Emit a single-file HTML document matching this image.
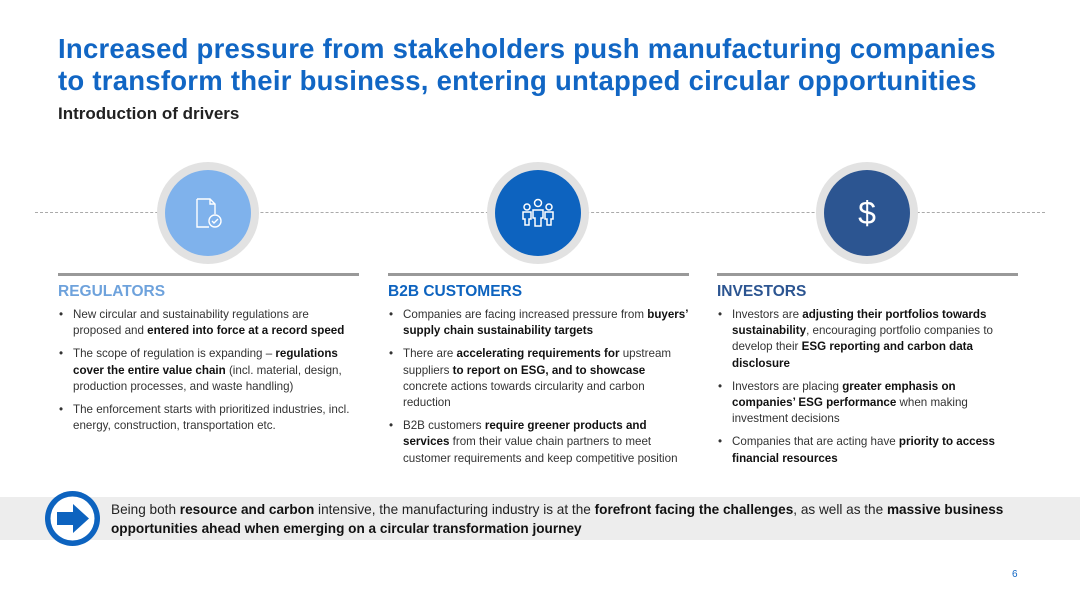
<!DOCTYPE html>
<html><head><meta charset="utf-8"><style>
*{margin:0;padding:0;box-sizing:border-box}
body{width:1080px;height:607px;background:#fff;font-family:"Liberation Sans",sans-serif;position:relative;overflow:hidden;color:#222}
.abs{position:absolute}
h1{position:absolute;left:58px;top:33px;font-size:27.5px;line-height:32px;color:#1166c4;font-weight:bold;letter-spacing:0.25px;white-space:nowrap}
.sub{left:58px;top:104px;font-size:17px;font-weight:bold;color:#222}
.dash{left:35px;top:212px;width:1010px;border-top:1.5px dashed #aaa}
.ring{width:102px;height:102px;border-radius:50%;background:#e2e2e2;top:162px}
.inner{position:absolute;left:8px;top:8px;width:86px;height:86px;border-radius:50%;display:flex;align-items:center;justify-content:center;color:#fff}
.col{top:273px;width:301px}
.rule{border-top:3px solid #999;}
.col h2{font-size:15.5px;margin-top:7px;margin-bottom:6px}
.col ul{list-style:none;font-size:11.6px;line-height:16.2px;color:#333}
.col li{position:relative;padding-left:15px;margin-bottom:7px}
.col li:before{content:"•";position:absolute;left:1px}
b{color:#111}
.band{left:0;top:497px;width:1080px;height:43px;background:#ededed}
.arrow{left:45px;top:491px;width:55px;height:55px;border-radius:50%;background:#0d63bf}
.btext{left:111px;top:500px;font-size:13.6px;line-height:19px;color:#222;width:950px}
.pg{left:1012px;top:569px;font-size:10px;color:#1166c4}
</style></head><body>
<h1>Increased pressure from stakeholders push manufacturing companies<br>to transform their business, entering untapped circular opportunities</h1>
<div class="abs sub">Introduction of drivers</div>
<div class="abs dash"></div>
<div class="abs ring" style="left:157px"><div class="inner" style="background:#7fb2ec">
<svg width="34" height="34" viewBox="0 0 34 34" fill="none" stroke="#fff" stroke-width="1.4"><path d="M6 3h13l5 5v10"/><path d="M6 3v28h12"/><path d="M19 3v5h5"/><circle cx="24" cy="25" r="6"/><path d="M21 25l2 2 4-4"/></svg></div></div>
<div class="abs ring" style="left:487px"><div class="inner" style="background:#0d63bf">
<svg width="36" height="30" viewBox="0 0 36 30" fill="none" stroke="#fff" stroke-width="1.5"><circle cx="18" cy="5" r="3.5"/><circle cx="7" cy="9" r="3"/><circle cx="29" cy="9" r="3"/><path d="M13 12h10v8h-2v8h-6v-8h-2z"/><path d="M3 14h8v7h-2v6H5v-6H3z"/><path d="M25 14h8v7h-2v6h-4v-6h-2z"/></svg></div></div>
<div class="abs ring" style="left:816px"><div class="inner" style="background:#2c5591;font-size:32px">$</div></div>

<div class="abs col" style="left:58px"><div class="rule"></div>
<h2 style="color:#6ea2dc">REGULATORS</h2>
<ul><li>New circular and sustainability regulations are proposed and <b>entered into force at a record speed</b></li>
<li>The scope of regulation is expanding – <b>regulations cover the entire value chain</b> (incl. material, design, production processes, and waste handling)</li>
<li>The enforcement starts with prioritized industries, incl. energy, construction, transportation etc.</li></ul></div>

<div class="abs col" style="left:388px"><div class="rule"></div>
<h2 style="color:#0d63bf">B2B CUSTOMERS</h2>
<ul><li>Companies are facing increased pressure from <b>buyers’ supply chain sustainability targets</b></li>
<li>There are <b>accelerating requirements for</b> upstream suppliers <b>to report on ESG, and to showcase</b> concrete actions towards circularity and carbon reduction</li>
<li>B2B customers <b>require greener products and services</b> from their value chain partners to meet customer requirements and keep competitive position</li></ul></div>

<div class="abs col" style="left:717px"><div class="rule"></div>
<h2 style="color:#2c5591">INVESTORS</h2>
<ul><li>Investors are <b>adjusting their portfolios towards sustainability</b>, encouraging portfolio companies to develop their <b>ESG reporting and carbon data disclosure</b></li>
<li>Investors are placing <b>greater emphasis on companies’ ESG performance</b> when making investment decisions</li>
<li>Companies that are acting have <b>priority to access financial resources</b></li></ul></div>

<div class="abs band"></div>
<div class="abs arrow">
<svg width="55" height="55" viewBox="0 0 55 55"><circle cx="27.5" cy="27.5" r="22" fill="#fff"/><path d="M12 21h16v-8l16 14.5-16 14.5v-8H12z" fill="#0d63bf"/></svg></div>
<div class="abs btext">Being both <b>resource and carbon</b> intensive, the manufacturing industry is at the <b>forefront facing the challenges</b>, as well as the <b>massive business opportunities ahead when emerging on a circular transformation journey</b></div>
<div class="abs pg">6</div>
</body></html>
